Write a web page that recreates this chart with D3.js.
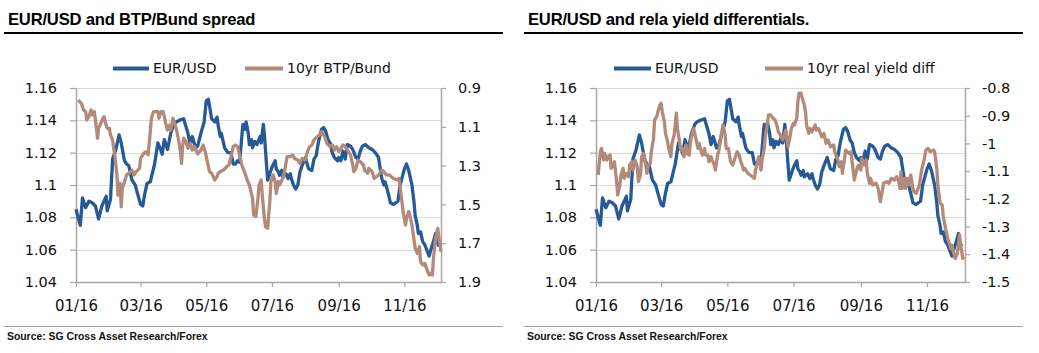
<!DOCTYPE html>
<html><head><meta charset="utf-8">
<script src="https://cdn.jsdelivr.net/npm/d3@7"></script>
<style>body{margin:0;background:#fff} svg{display:block}</style>
</head><body><svg id="c" width="1039" height="353"></svg>
<script>
// x positions are days since 2016-01-01
const eurDays = [0,4,6,9,12,15,18,21,24,28,29,32,34,37,40,42,45,47,49,52,55,57,60,62,64,66,69,73,76,78,80,82,85,88,91,93,96,100,104,106,108,111,113,116,119,121,123,124,126,129,131,132,134,135,137,138,141,144,146,148,150,152,154,155,157,158,160,161,163,164,166,168,171,172,174,175,177,178,180,182,185,186,188,189,191,192,195,197,199,200,202,204,206,208,210,213,216,219,221,223,225,228,230,232,234,236,238,240,243,244,246,248,250,252,255,257,260,262,264,266,269,272,275,278,281,283,284,286,287,289,291,292,295,297,299,301,305,307,309,311,312,314,315,317,318,320,322,324,326,328,329,331,332,334,335,337];
const eurUsd = [1.085,1.075,1.092,1.086,1.090,1.089,1.087,1.079,1.087,1.093,1.084,1.091,1.116,1.122,1.131,1.126,1.115,1.113,1.112,1.103,1.100,1.095,1.088,1.087,1.095,1.101,1.102,1.113,1.126,1.123,1.119,1.128,1.122,1.132,1.1375,1.139,1.140,1.141,1.132,1.125,1.130,1.123,1.124,1.132,1.139,1.152,1.153,1.149,1.141,1.139,1.142,1.137,1.130,1.132,1.126,1.123,1.120,1.120,1.113,1.113,1.115,1.114,1.130,1.1375,1.1345,1.139,1.132,1.125,1.128,1.123,1.127,1.125,1.130,1.126,1.1375,1.131,1.112,1.103,1.107,1.111,1.115,1.110,1.108,1.106,1.109,1.105,1.107,1.104,1.107,1.104,1.100,1.0975,1.100,1.108,1.112,1.117,1.110,1.109,1.116,1.118,1.126,1.1345,1.1355,1.133,1.128,1.126,1.120,1.117,1.115,1.117,1.115,1.121,1.116,1.125,1.124,1.122,1.117,1.116,1.121,1.124,1.125,1.123,1.122,1.120,1.117,1.108,1.104,1.100,1.102,1.0975,1.092,1.089,1.088,1.089,1.090,1.100,1.110,1.113,1.109,1.103,1.100,1.089,1.081,1.075,1.070,1.071,1.065,1.063,1.0595,1.056,1.0585,1.063,1.065,1.070,1.065,1.062];

const btpDays = [2,5,7,9,10,12,14,15,17,18,20,21,23,25,26,28,29,31,32,34,35,36,38,39,41,42,43,45,47,49,52,54,56,59,60,63,65,67,69,70,72,76,77,79,81,83,85,87,88,90,93,95,97,98,99,100,102,104,106,108,110,113,116,118,120,123,124,126,129,131,132,134,137,140,142,144,146,148,150,152,154,157,159,161,164,165,167,169,170,172,173,175,176,178,180,181,183,185,186,188,189,192,193,195,196,199,201,203,206,208,210,213,215,217,219,221,224,226,228,229,231,233,236,238,240,242,244,246,248,250,253,255,257,258,260,262,264,267,268,271,272,275,277,279,281,284,286,288,291,293,295,298,300,302,304,306,307,309,310,312,314,315,317,319,320,322,324,326,328,329,331,332,334,336,337,339];
const btpBund = [0.962,0.979,1.013,1.022,1.065,1.048,1.013,1.039,1.022,1.065,1.159,1.108,1.082,1.056,1.048,1.091,1.108,1.108,1.142,1.168,1.211,1.245,1.348,1.452,1.391,1.512,1.417,1.383,1.348,1.340,1.323,1.348,1.331,1.314,1.263,1.237,1.228,1.245,1.125,1.056,1.022,1.022,1.056,1.022,1.022,1.074,1.117,1.091,1.117,1.056,1.108,1.159,1.228,1.288,1.202,1.159,1.177,1.211,1.185,1.220,1.202,1.24,1.220,1.194,1.228,1.305,1.331,1.340,1.374,1.357,1.340,1.331,1.323,1.305,1.297,1.254,1.202,1.194,1.202,1.245,1.297,1.340,1.374,1.400,1.469,1.555,1.563,1.469,1.400,1.374,1.452,1.572,1.615,1.623,1.486,1.383,1.348,1.383,1.443,1.383,1.400,1.366,1.348,1.288,1.254,1.254,1.245,1.263,1.271,1.288,1.263,1.271,1.228,1.202,1.194,1.168,1.151,1.142,1.125,1.134,1.151,1.185,1.202,1.194,1.220,1.202,1.228,1.211,1.194,1.202,1.228,1.245,1.297,1.331,1.314,1.271,1.280,1.297,1.323,1.340,1.314,1.331,1.366,1.357,1.348,1.323,1.331,1.348,1.348,1.357,1.366,1.374,1.366,1.452,1.546,1.606,1.572,1.537,1.555,1.606,1.683,1.726,1.752,1.718,1.795,1.812,1.804,1.838,1.864,1.855,1.864,1.778,1.675,1.623,1.666,1.744];

const ryDays = [2,4,5,7,8,10,11,13,14,16,17,19,20,22,23,25,26,28,30,31,33,34,36,38,39,41,42,44,45,47,48,50,51,53,54,56,57,59,60,61,63,64,66,67,69,70,72,74,75,77,78,80,81,83,84,86,87,89,90,92,94,95,97,98,100,101,103,104,106,107,109,110,112,113,115,117,119,120,122,124,126,128,130,132,133,136,137,140,142,144,146,147,150,151,152,153,155,156,158,159,161,163,165,167,168,170,172,173,175,176,177,179,180,182,183,185,186,187,189,190,192,193,194,196,197,199,202,203,205,208,210,212,214,216,219,220,223,224,226,227,229,230,233,235,236,238,239,241,242,244,245,247,249,250,252,253,255,258,260,262,264,265,268,270,272,275,277,279,280,281,282,284,285,287,288,290,292,293,295,298,300,302,304,306,308,311,312,314,315,317,319,320,322,324,325,327,328,330,331,333,335,336,338,339];
const realYield = [-1.114,-1.030,-1.018,-1.060,-1.036,-1.060,-1.048,-1.042,-1.090,-1.078,-1.066,-1.138,-1.186,-1.150,-1.114,-1.090,-1.126,-1.108,-1.120,-1.078,-1.066,-1.096,-1.060,-1.084,-1.138,-1.114,-1.048,-1.036,-1.060,-1.108,-1.078,-1.072,-1.030,-0.982,-0.915,-0.903,-0.885,-0.861,-0.855,-0.885,-0.921,-0.964,-0.994,-1.018,-1.048,-1.000,-0.970,-0.891,-0.946,-0.994,-1.024,-1.018,-1.048,-1.006,-1.036,-1.042,-0.994,-0.958,-0.946,-0.982,-1.018,-1.000,-1.030,-1.042,-1.018,-1.042,-1.042,-1.066,-1.048,-1.060,-1.078,-1.096,-1.042,-1.030,-0.982,-0.933,-0.970,-1.018,-1.018,-1.066,-1.078,-1.054,-1.030,-1.042,-1.060,-1.096,-1.090,-1.108,-1.114,-1.120,-1.126,-1.096,-1.048,-1.066,-1.096,-1.060,-1.018,-0.976,-0.927,-0.897,-0.897,-0.909,-0.915,-0.940,-0.958,-0.970,-0.988,-0.976,-0.952,-0.988,-1.012,-0.970,-0.946,-0.927,-0.933,-0.909,-0.849,-0.819,-0.819,-0.837,-0.861,-0.885,-0.933,-0.964,-0.946,-0.958,-0.933,-0.952,-0.946,-0.976,-0.964,-1.000,-0.988,-1.012,-1.006,-1.030,-1.060,-1.084,-1.066,-1.108,-1.054,-1.024,-1.036,-1.030,-1.066,-1.132,-1.114,-1.084,-1.078,-1.096,-1.054,-1.078,-1.060,-1.108,-1.144,-1.126,-1.150,-1.144,-1.162,-1.210,-1.168,-1.144,-1.138,-1.144,-1.126,-1.132,-1.120,-1.138,-1.162,-1.102,-1.162,-1.126,-1.162,-1.126,-1.150,-1.114,-1.162,-1.174,-1.180,-1.150,-1.096,-1.066,-1.024,-1.018,-1.030,-1.024,-1.030,-1.090,-1.150,-1.216,-1.222,-1.264,-1.306,-1.342,-1.354,-1.379,-1.367,-1.403,-1.415,-1.397,-1.330,-1.367,-1.415,-1.409];

const xTickDates = ["2016-01-01","2016-03-01","2016-05-01","2016-07-01","2016-09-01","2016-11-01"];
const eurTicks = [1.04,1.06,1.08,1.1,1.12,1.14,1.16];
const btpTicks = [0.9,1.1,1.3,1.5,1.7,1.9];
const ryTicks = [-0.8,-0.9,-1,-1.1,-1.2,-1.3,-1.4,-1.5];
const titles = ["EUR/USD and BTP/Bund spread","EUR/USD and rela yield differentials."];
const legendLabels = [["EUR/USD","10yr BTP/Bund"],["EUR/USD","10yr real yield diff"]];
const sourceText = "Source: SG Cross Asset Research/Forex";

const BLUE = "#265a96", TAN = "#b38a7a", GRID = "#d9d9d9", AXIS = "#a6a6a6";
const start = new Date(2016,0,1);
const toDate = d => d3.timeDay.offset(start, d);
const parse = d3.timeParse("%Y-%m-%d");
const fmt = v => String(+v.toFixed(2));
const svg = d3.select("#c");

function panel(o) {
  const g = svg.append("g");
  g.append("text").attr("x", o.ox + 8).attr("y", 25).text(o.title)
    .attr("font-family", "Liberation Sans, Arial, sans-serif").attr("font-weight", "bold")
    .attr("font-size", "16.6px").attr("letter-spacing", "-0.2px").attr("fill", "#000");
  g.append("line").attr("x1", o.ox + 4).attr("x2", o.ox + 503).attr("y1", 33).attr("y2", 33)
    .attr("stroke", "#000").attr("stroke-width", 2);
  g.append("line").attr("x1", o.ox + 4).attr("x2", o.ox + 503).attr("y1", 326.5).attr("y2", 326.5)
    .attr("stroke", "#a0a0a0").attr("stroke-width", 1);
  g.append("text").attr("x", o.ox + 7).attr("y", 340).text(sourceText)
    .attr("font-family", "Liberation Sans, Arial, sans-serif").attr("font-weight", "bold")
    .attr("font-size", "10.4px").attr("fill", "#111");

  const x = d3.scaleTime().domain([start, toDate(o.endDay)]).range([o.left, o.right]);
  const yL = d3.scaleLinear().domain([1.04, 1.16]).range([282, 88]);
  const yR = d3.scaleLinear().domain(o.rDomain).range([282, 88]);

  g.append("g").selectAll("line").data(eurTicks.filter(t => t > 1.04)).join("line")
    .attr("x1", o.left).attr("x2", o.right)
    .attr("y1", d => Math.round(yL(d)) + 0.5).attr("y2", d => Math.round(yL(d)) + 0.5)
    .attr("stroke", GRID).attr("stroke-width", 1.2);

  const styleAxis = (sel, size) => {
    sel.selectAll("path.domain").attr("stroke", AXIS).attr("stroke-width", 1.5);
    sel.selectAll(".tick line").attr("stroke", AXIS).attr("stroke-width", 1.2);
    sel.selectAll("text").attr("font-family", "DejaVu Sans, Verdana, sans-serif")
      .attr("font-size", size).attr("fill", "#111");
  };
  g.append("g").attr("transform", `translate(${o.left},0)`)
    .call(d3.axisLeft(yL).tickValues(eurTicks).tickFormat(fmt).tickSize(6).tickSizeOuter(0).tickPadding(13))
    .call(s => styleAxis(s, "14.5px"));
  g.append("g").attr("transform", `translate(${o.right},0)`)
    .call(d3.axisRight(yR).tickValues(o.rTicks).tickFormat(fmt).tickSize(5).tickSizeOuter(0).tickPadding(12))
    .call(s => styleAxis(s, "14.5px"));
  g.append("g").attr("transform", `translate(0,282)`)
    .call(d3.axisBottom(x).tickValues(xTickDates.map(parse)).tickFormat(d3.timeFormat("%m/%y"))
      .tickSize(5).tickSizeOuter(0).tickPadding(13))
    .call(s => styleAxis(s, "15px"));

  const line1 = d3.line().x(d => x(toDate(d[0]))).y(d => yL(d[1]));
  const line2 = d3.line().x(d => x(toDate(d[0]))).y(d => yR(d[1]));
  g.append("path").datum(d3.zip(eurDays, eurUsd)).attr("d", line1)
    .attr("fill", "none").attr("stroke", BLUE).attr("stroke-width", 3.3).attr("stroke-linejoin", "round");
  g.append("path").datum(d3.zip(o.rDays, o.rVals)).attr("d", line2)
    .attr("fill", "none").attr("stroke", TAN).attr("stroke-width", 3.3).attr("stroke-linejoin", "round");

  const lg = g.append("g").attr("font-family", "DejaVu Sans, Verdana, sans-serif").attr("font-size", "14px");
  o.legend.forEach((it, i) => {
    lg.append("line").attr("x1", it.x1).attr("x2", it.x2).attr("y1", 68.5).attr("y2", 68.5)
      .attr("stroke", i === 0 ? BLUE : TAN).attr("stroke-width", 4);
    lg.append("text").attr("x", it.x2 + 4).attr("y", 73).text(legendLabels[o.idx][i]).attr("fill", "#111");
  });
}

panel({idx: 0, ox: 0, title: titles[0], left: 76, right: 441, endDay: 339,
  rDomain: [1.9, 0.9], rTicks: btpTicks, rDays: btpDays, rVals: btpBund,
  legend: [{x1: 113, x2: 149}, {x1: 245, x2: 283}]});
panel({idx: 1, ox: 520, title: titles[1], left: 596, right: 965, endDay: 340,
  rDomain: [-1.5, -0.8], rTicks: ryTicks, rDays: ryDays, rVals: realYield,
  legend: [{x1: 614, x2: 651}, {x1: 765, x2: 803}]});
</script>
</body></html>
